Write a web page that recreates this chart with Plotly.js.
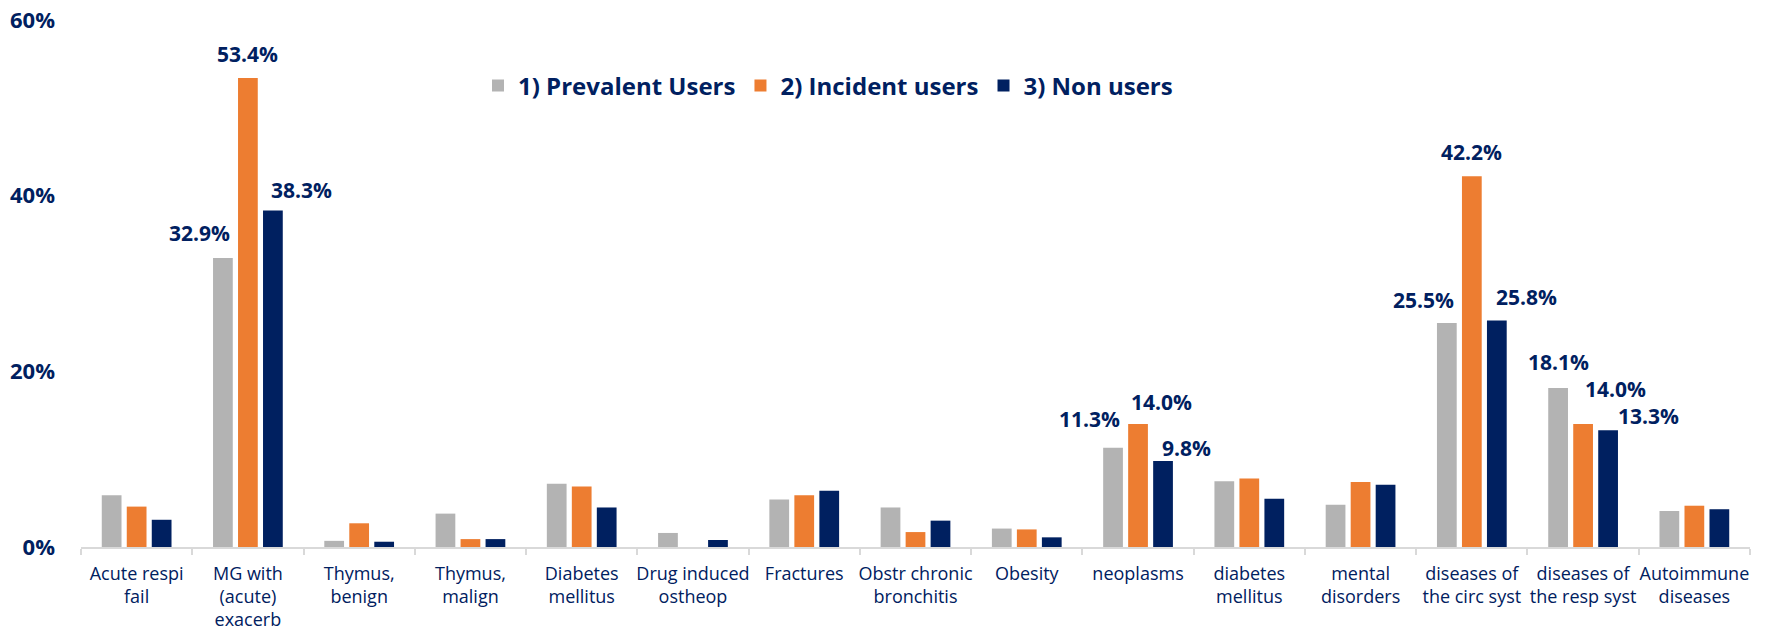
<!DOCTYPE html>
<html>
<head>
<meta charset="utf-8">
<script src="https://cdn.plot.ly/plotly-3.0.1.min.js"></script>
<style>html,body{margin:0;padding:0;background:#fff;}#chart{width:1767px;height:630px;}</style>
</head>
<body>
<div id="chart"></div>
<script>
// ---- data ----
const categories = [
  "Acute respi<br>fail", "MG with<br>(acute)<br>exacerb", "Thymus,<br>benign", "Thymus,<br>malign",
  "Diabetes<br>mellitus", "Drug induced<br>ostheop", "Fractures", "Obstr chronic<br>bronchitis",
  "Obesity", "neoplasms", "diabetes<br>mellitus", "mental<br>disorders",
  "diseases of<br>the circ syst", "diseases of<br>the resp syst", "Autoimmune<br>diseases"
];
const seriesNames = ["1) Prevalent Users", "2) Incident users", "3) Non users"];
const prevalentUsers = [5.9, 32.9, 0.7, 3.8, 7.2, 1.6, 5.4, 4.5, 2.1, 11.3, 7.5, 4.8, 25.5, 18.1, 4.1];
const incidentUsers  = [4.6, 53.4, 2.7, 0.9, 6.9, 0.0, 5.9, 1.7, 2.0, 14.0, 7.8, 7.4, 42.2, 14.0, 4.7];
const nonUsers       = [3.1, 38.3, 0.6, 0.9, 4.5, 0.8, 6.4, 3.0, 1.1, 9.8, 5.5, 7.1, 25.8, 13.3, 4.3];
const yTickValues = [0, 20, 40, 60];
const yTickLabels = ["0%", "20%", "40%", "60%"];
const labeledCategories = ["MG with<br>(acute)<br>exacerb", "neoplasms", "diseases of<br>the circ syst", "diseases of<br>the resp syst"];

// ---- styling ----
const colors = ["#B3B3B3", "#ED7D31", "#002060"];
const navy = "#002060";
const W = 1767, H = 630;
const margin = {l: 81, r: 17, t: 20, b: 83};
const bargap = 0.326, bargroupgap = 0.21;

// label offsets (px) relative to each bar's centre/top, per labelled category & series
const labelOffsets = {
  "MG with<br>(acute)<br>exacerb": [[-23.5, 24.6], [0, 24], [29, 21]],
  "neoplasms": [[-24, 28.7], [23.7, 21.6], [23.5, 12.6]],
  "diseases of<br>the circ syst": [[-23.5, 23.4], [0, 24.3], [29.3, 23.6]],
  "diseases of<br>the resp syst": [[0, 25.7], [32.7, 35.4], [40, 13.7]]
};

const allSeries = [prevalentUsers, incidentUsers, nonUsers];
const traces = allSeries.map((vals, i) => ({
  type: "bar",
  name: seriesNames[i],
  x: categories,
  y: vals,
  marker: {color: colors[i]},
  hoverinfo: "x+y"
}));

const plotW = W - margin.l - margin.r;
const plotH = H - margin.t - margin.b;
const catW = plotW / categories.length;
const slotPx = catW * (1 - bargap) / 3;

const annotations = [];
labeledCategories.forEach(cat => {
  const ci = categories.indexOf(cat);
  allSeries.forEach((vals, si) => {
    const off = labelOffsets[cat][si];
    annotations.push({
      x: cat, y: vals[ci], xref: "x", yref: "y",
      text: vals[ci].toFixed(1) + "%",
      showarrow: false,
      xanchor: "center", yanchor: "middle",
      xshift: (si - 1) * slotPx + off[0],
      yshift: off[1],
      font: {family: "Open Sans", size: 21, color: navy, weight: 700}
    });
  });
});

const layout = {
  width: W, height: H,
  margin: margin,
  paper_bgcolor: "#fff", plot_bgcolor: "#fff",
  barmode: "group",
  bargap: bargap, bargroupgap: bargroupgap,
  showlegend: true,
  legend: {
    orientation: "h",
    xref: "paper", yref: "paper",
    x: (478 - margin.l) / plotW, y: (H - margin.b - 86) / plotH,
    xanchor: "left", yanchor: "middle",
    font: {family: "Open Sans", size: 24, color: navy, weight: 700},
    itemwidth: 30, traceorder: "normal",
    bgcolor: "rgba(0,0,0,0)"
  },
  xaxis: {
    type: "category",
    showgrid: false, zeroline: false,
    showline: true, linecolor: "#D9D9D9", linewidth: 2,
    ticks: "outside", tickson: "boundaries", ticklen: 6, tickwidth: 2, tickcolor: "#D9D9D9",
    tickfont: {family: "Open Sans", size: 18, color: navy},
    tickangle: 0,
    ticklabelstandoff: 9,
    automargin: false
  },
  yaxis: {
    range: [0, 60],
    tickmode: "array",
    tickvals: yTickValues,
    ticktext: yTickLabels,
    showgrid: false, zeroline: false, showline: false,
    ticks: "",
    ticklabelstandoff: 25,
    tickfont: {family: "Open Sans", size: 22, color: navy, weight: 700},
    automargin: false
  },
  annotations: annotations,
  font: {family: "Open Sans", color: navy}
};

Plotly.newPlot("chart", traces, layout, {displayModeBar: false, staticPlot: true});
</script>
</body>
</html>
